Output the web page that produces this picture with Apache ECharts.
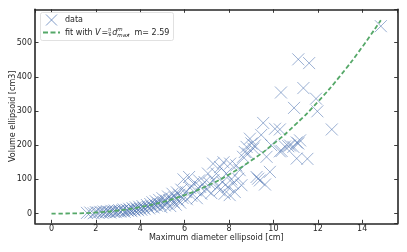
<!DOCTYPE html>
<html>
<head>
<meta charset="utf-8">
<script src="https://cdn.jsdelivr.net/npm/echarts@6/dist/echarts.min.js"></script>
<style>
html,body{margin:0;padding:0;background:#fff;}
#c{width:407px;height:252px;}
</style>
</head>
<body>
<div id="c"></div>
<script>
// measured data: maximum diameter [cm] and volume [cm3]
const dataX = [1.6,1.75,1.9,2.0,2.1,2.2,2.3,2.35,2.45,2.5,2.6,2.65,2.7,2.8,2.85,2.9,3.0,3.05,3.1,3.2,
  3.25,3.3,3.4,3.45,3.5,3.55,3.6,3.65,3.7,3.75,3.8,3.85,3.9,3.95,4.0,4.05,4.1,4.15,4.2,4.3,
  4.35,4.4,4.45,4.5,4.55,4.6,4.65,4.7,4.75,4.8,4.85,4.9,4.95,5.0,5.05,5.1,5.15,5.2,5.25,5.3,
  5.35,5.4,5.45,5.5,5.55,5.6,5.65,5.7,5.75,5.8,5.85,5.9,5.95,6.05,6.1,6.2,6.25,6.3,6.4,6.5,
  6.55,6.65,6.7,6.75,6.9,7.0,7.05,7.13,7.2,7.28,7.3,7.43,7.5,7.58,7.6,7.7,7.75,7.8,7.88,7.95,
  8.03,8.05,8.1,8.18,8.26,8.33,8.41,8.48,8.56,8.63,8.71,8.79,8.86,8.94,9.01,9.09,9.16,9.24,9.31,9.39,
  9.45,9.54,9.62,9.69,9.84,9.9,10.07,10.29,10.29,10.34,10.37,10.52,10.67,10.75,10.9,10.93,11.05,11.05,11.12,11.12,
  11.2,11.35,11.53,11.61,11.92,11.98,12.63,14.84];
const dataY = [2,3,1,4,3,5,2,6,4,7,5,3,8,6,9,4,7,10,6,9,
  12,5,11,8,14,10,7,16,12,9,18,13,10,20,15,11,22,17,13,25,
  19,15,28,21,33,18,26,36,23,30,40,27,19,45,33,24,38,29,50,39,
  22,44,58,34,48,26,62,40,55,32,70,46,100,63,42,107,75,52,88,68,
  45,97,78,58,92,70,117,88,60,146,98,117,80,68,136,92,150,58,117,78,
  54,146,100,88,63,141,102,127,83,166,180,195,175,219,205,190,199,107,102,97,
  230,265,85,166,122,200,248,246,182,354,183,196,197,199,195,309,161,208,205,451,
  214,367,160,440,336,299,246,548];
// fitted curve V = pi/6 * d^m, m = 2.59 (values read at these diameters)
const fitX = [0,1,2,3,4,5,6,7,8,9,10,11,12,13,14,14.84];
const fitY = [0,0.52,3.15,9.01,19.0,33.8,54.2,80.9,114.3,155.1,203.7,260.8,326.7,401.9,487.0,565.5];
const xTicks = [0,2,4,6,8,10,12,14];
const yTicks = [0,100,200,300,400,500];

const chart = echarts.init(document.getElementById('c'));
const frame = '#262626';
const font = 'DejaVu Sans';
const xMin = -0.743, xMax = 15.6, yMin = -28.4, yMax = 597.3;
const blue = 'rgba(76,114,176,0.7)';
const green = '#55A868';
const xSym = 'path://M0,0L10,10M10,0L0,10';
const fs = 8;

function axisBase(extra){
  return Object.assign({
    type:'value',
    axisLine:{show:true,onZero:false,lineStyle:{color:frame,width:1.6}},
    axisTick:{show:true,inside:true,length:3.5,lineStyle:{color:frame,width:0.9}},
    splitLine:{show:false},
    axisLabel:{show:false}
  }, extra);
}
const labelStyle = {show:true,fontFamily:font,fontSize:fs,color:'#262626',showMinLabel:false,showMaxLabel:false};

const scatterPts = dataX.map((x,i)=>[x,dataY[i]]);
const fitPts = fitX.map((x,i)=>[x,fitY[i]]);

function t(x,y,text,size,italic){
  return {type:'text',x:x,y:y,z:11,style:{text:text,font:(italic?'italic ':'')+size+'px "DejaVu Sans"',fill:'#262626',verticalAlign:'middle'}};
}

chart.setOption({
  animation:false,
  backgroundColor:'#fff',
  grid:{left:35,right:9.3,top:9.3,bottom:28.7,outerBoundsMode:'none',containLabel:false},
  xAxis:[
    axisBase({min:xMin,max:xMax,splitNumber:8,position:'bottom',
      axisLabel:Object.assign({},labelStyle,{margin:2,formatter:v=>xTicks.includes(v)?String(v):''}),
      name:'Maximum diameter ellipsoid [cm]',nameLocation:'middle',nameGap:11,nameMoveOverlap:false,
      nameTextStyle:{fontFamily:font,fontSize:fs,color:'#262626',verticalAlign:'top'}}),
    axisBase({min:xMin,max:xMax,splitNumber:8,position:'top'})
  ],
  yAxis:[
    axisBase({min:yMin,max:yMax,splitNumber:6,position:'left',
      axisLabel:Object.assign({},labelStyle,{margin:3,formatter:v=>yTicks.includes(v)?String(v):''}),
      name:'Volume ellipsoid [cm3]',nameLocation:'middle',nameGap:18.5,nameMoveOverlap:false,
      nameTextStyle:{fontFamily:font,fontSize:fs,color:'#262626',verticalAlign:'bottom'}}),
    axisBase({min:yMin,max:yMax,splitNumber:6,position:'right'})
  ],
  series:[
    {type:'scatter',name:'data',data:scatterPts,symbol:xSym,symbolSize:12,
      itemStyle:{color:'rgba(0,0,0,0)',borderColor:blue,borderWidth:1},
      emphasis:{disabled:true},z:2},
    {type:'line',name:'fit',data:fitPts,smooth:true,showSymbol:false,symbol:'none',
      lineStyle:{color:green,width:1.8,type:[4.5,2.5]},z:3}
  ],
  graphic:[
    {type:'rect',shape:{x:40.5,y:12.5,width:133,height:28,r:2},
      style:{fill:'rgba(255,255,255,0.8)',stroke:'#d9d9d9',lineWidth:0.8},z:10},
    {type:'line',shape:{x1:46,y1:14.5,x2:57,y2:25.5},style:{stroke:blue,lineWidth:1},z:11},
    {type:'line',shape:{x1:57,y1:14.5,x2:46,y2:25.5},style:{stroke:blue,lineWidth:1},z:11},
    {type:'line',shape:{x1:43,y1:32.5,x2:60,y2:32.5},
      style:{stroke:green,lineWidth:1.8,lineDash:[5,2.5]},z:11},
    t(65,20,'data',fs),
    t(65,32.5,'fit with',fs),
    t(95,32.5,'V',fs,true),
    t(101.5,32.5,'=',fs),
    t(108.3,30.2,'π',4.5),
    {type:'line',shape:{x1:108,y1:32.4,x2:111.2,y2:32.4},style:{stroke:'#262626',lineWidth:0.4},z:11},
    t(108.5,35,'6',4.5),
    t(112.3,32.5,'d',fs,true),
    t(117.3,29.3,'m',5.5,true),
    t(117.3,35.5,'max',5.5,true),
    t(127.5,32.5,',',fs),
    t(134.5,32.5,'m= 2.59',fs)
  ]
});
</script>
</body>
</html>
